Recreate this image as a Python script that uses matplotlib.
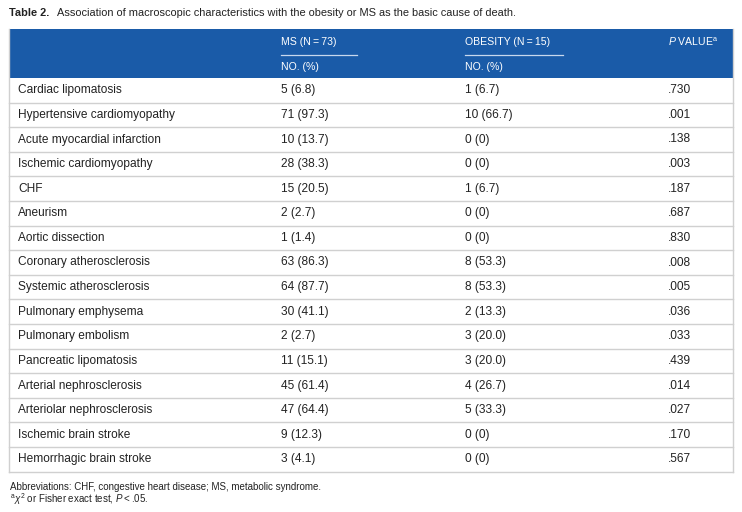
import matplotlib.pyplot as plt
from matplotlib.patches import Rectangle

plt.rcParams["font.family"] = ["Liberation Sans", "DejaVu Sans"]
plt.rcParams["mathtext.fontset"] = "custom"
plt.rcParams["mathtext.rm"] = "Liberation Sans"
plt.rcParams["mathtext.it"] = "Liberation Sans:italic"

W, H = 742, 512
BLUE = "#1a5ba8"
GRID = "#d0d0d0"
TXT = "#222222"

characteristics = [
    "Cardiac lipomatosis", "Hypertensive cardiomyopathy", "Acute myocardial infarction",
    "Ischemic cardiomyopathy", "CHF", "Aneurism", "Aortic dissection",
    "Coronary atherosclerosis", "Systemic atherosclerosis", "Pulmonary emphysema",
    "Pulmonary embolism", "Pancreatic lipomatosis", "Arterial nephrosclerosis",
    "Arteriolar nephrosclerosis", "Ischemic brain stroke", "Hemorrhagic brain stroke",
]
ms_values = [
    "5 (6.8)", "71 (97.3)", "10 (13.7)", "28 (38.3)", "15 (20.5)", "2 (2.7)", "1 (1.4)",
    "63 (86.3)", "64 (87.7)", "30 (41.1)", "2 (2.7)", "11 (15.1)", "45 (61.4)",
    "47 (64.4)", "9 (12.3)", "3 (4.1)",
]
obesity_values = [
    "1 (6.7)", "10 (66.7)", "0 (0)", "0 (0)", "1 (6.7)", "0 (0)", "0 (0)",
    "8 (53.3)", "8 (53.3)", "2 (13.3)", "3 (20.0)", "3 (20.0)", "4 (26.7)",
    "5 (33.3)", "0 (0)", "0 (0)",
]
p_values = [
    ".730", ".001", ".138", ".003", ".187", ".687", ".830", ".008", ".005", ".036",
    ".033", ".439", ".014", ".027", ".170", ".567",
]

fig = plt.figure(figsize=(W / 100, H / 100), dpi=100)
ax = fig.add_axes([0, 0, 1, 1])
ax.set_xlim(0, W)
ax.set_ylim(H, 0)
ax.axis("off")

fs = 8.6
hfs = 7.6
left, right = 9, 733
head_top, head_bot = 29, 78
row_h = 24.6
col_x = [18, 281, 465, 668]

# title
ax.text(left, 13, "Table 2.", fontsize=7.9, fontweight="bold", va="center", color=TXT)
ax.text(57, 13, "Association of macroscopic characteristics with the obesity or MS as the basic cause of death.",
        fontsize=7.9, va="center", color=TXT)

# header
ax.add_patch(Rectangle((left, head_top), right - left, head_bot - head_top, color=BLUE, lw=0))
ax.text(col_x[1], 42, "MS (N\u2009=\u200973)", fontsize=hfs, color="white", va="center")
ax.text(col_x[2], 42, "OBESITY (N\u2009=\u200915)", fontsize=hfs, color="white", va="center")
ax.text(668, 42, "$\\it{P}$ VALUE$^{\\rm a}$", fontsize=hfs, color="white", va="center")
ax.plot([281, 357], [55, 55], color="#c8d8ee", lw=0.9)
ax.plot([465, 563], [55, 55], color="#c8d8ee", lw=0.9)
ax.text(col_x[1], 67, "NO. (%)", fontsize=hfs, color="white", va="center")
ax.text(col_x[2], 67, "NO. (%)", fontsize=hfs, color="white", va="center")

# body rows
for i, (name, ms, ob, p) in enumerate(zip(characteristics, ms_values, obesity_values, p_values)):
    y0 = head_bot + i * row_h
    yc = y0 + row_h / 2
    ax.text(col_x[0], yc, name, fontsize=fs, color=TXT, va="center")
    ax.text(col_x[1], yc, ms, fontsize=fs, color=TXT, va="center")
    ax.text(col_x[2], yc, ob, fontsize=fs, color=TXT, va="center")
    ax.text(col_x[3], yc, p, fontsize=fs, color=TXT, va="center")
    ax.plot([left, right], [y0 + row_h, y0 + row_h], color=GRID, lw=1)

bottom = head_bot + len(characteristics) * row_h
ax.plot([left, left], [head_top, bottom], color=GRID, lw=1)
ax.plot([right, right], [head_top, bottom], color=GRID, lw=1)

# footnotes
ax.text(10, 487, "Abbreviations: CHF, congestive heart disease; MS, metabolic syndrome.",
        fontsize=7, color=TXT, va="center")
ax.text(10, 499, "$^{\\rm a}\\chi^{2}$ or Fisher exact test, $\\it{P}$\u2009<\u2009.05.",
        fontsize=7, color=TXT, va="center")

fig.savefig("out.png", dpi=100)
